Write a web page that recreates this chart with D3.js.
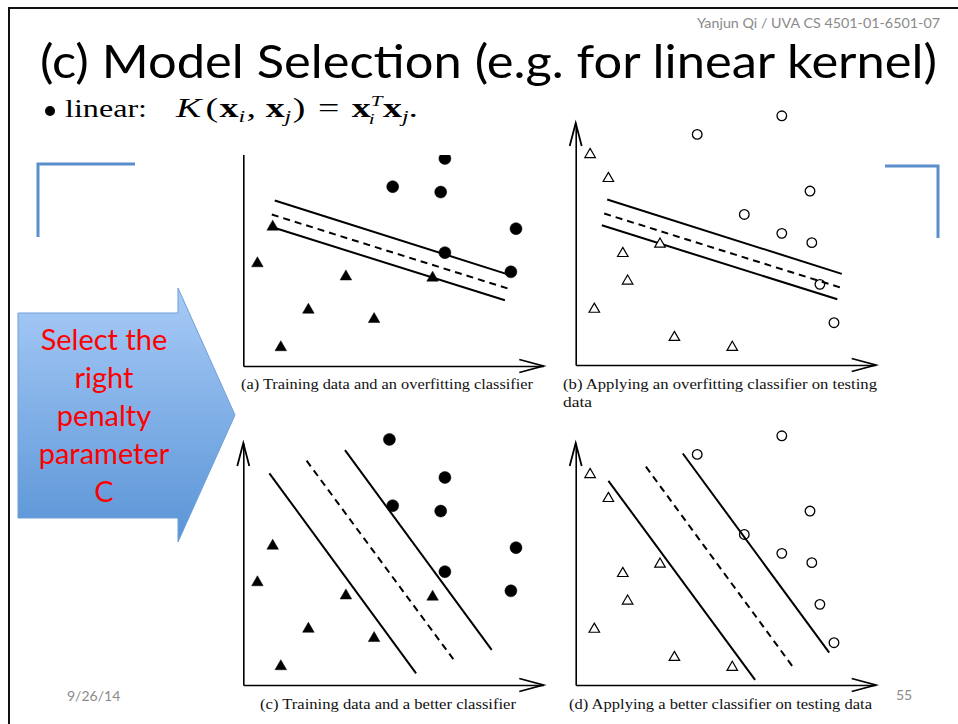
<!DOCTYPE html>
<html>
<head>
<meta charset="utf-8">
<script src="https://cdn.jsdelivr.net/npm/d3@7"></script>
<style>
  body { margin: 0; background: #fff; }
  svg { display: block; }
</style>
</head>
<body>
<svg id="slide" width="958" height="724"></svg>
<script>
// Training points (panels a and c), in axis units
const trainTriangles = [[0.98, 4.64], [0.47, 3.42], [3.42, 2.98], [2.17, 1.87], [4.36, 1.56], [1.25, 0.62], [6.31, 2.94]];
const trainCircles = [[4.87, 8.19], [6.72, 6.92], [4.98, 5.98], [6.58, 5.80], [9.09, 4.58], [6.72, 3.78], [8.92, 3.14]];

// Test points (panels b and d)
const testTriangles = [[0.48, 7.02], [1.09, 6.22], [2.81, 4.03], [1.57, 3.72], [1.73, 2.80], [0.62, 1.86], [3.29, 0.92], [5.22, 0.59]];
const testCircles = [[6.87, 8.31], [4.05, 7.69], [7.81, 5.80], [5.62, 5.02], [6.87, 4.39], [7.87, 4.08], [8.14, 2.69], [8.61, 1.41]];

// Boundaries: [x1, y1, x2, y2, dashed]
const overfitLines = [[1.05, 5.52, 8.87, 3.04, false], [0.95, 5.05, 8.83, 2.58, true], [0.87, 4.66, 8.72, 2.19, false]];
const betterTrainLines = [[0.87, 7.06, 5.76, 0.39, false], [2.11, 7.48, 7.00, 0.86, true], [3.39, 7.83, 8.28, 1.17, false]];
const betterTestLines = [[1.09, 6.81, 5.98, 0.17, false], [2.34, 7.28, 7.25, 0.59, true], [3.57, 7.72, 8.45, 1.08, false]];

const captions = [
  ['(a) Training data and an overfitting classifier'],
  ['(b) Applying an overfitting classifier on testing', 'data'],
  ['(c) Training data and a better classifier'],
  ['(d) Applying a better classifier on testing data']
];
const arrowLabel = ['Select the', 'right', 'penalty', 'parameter', 'C'];

const svg = d3.select('#slide');
svg.append('rect').attr('width', 958).attr('height', 724).attr('fill', '#fff');

// slide frame (top + left edges)
svg.append('path')
  .attr('d', 'M9,724 L9,8 L958,8')
  .attr('fill', 'none')
  .attr('stroke', '#111')
  .attr('stroke-width', 2);

// header
svg.append('text')
  .attr('x', 697).attr('y', 28)
  .attr('font-family', 'Lato, sans-serif')
  .attr('font-size', 13)
  .attr('fill', '#8a8a8a')
  .attr('textLength', 243)
  .attr('lengthAdjust', 'spacingAndGlyphs')
  .text('Yanjun Qi / UVA CS 4501-01-6501-07');

// title
svg.append('text')
  .attr('x', 40).attr('y', 78)
  .attr('font-family', 'Lato, sans-serif')
  .attr('font-size', 46)
  .attr('fill', '#000')
  .attr('textLength', 897)
  .attr('lengthAdjust', 'spacingAndGlyphs')
  .text('(c) Model Selection (e.g. for linear kernel)');

// bullet with kernel formula
svg.append('circle').attr('cx', 50).attr('cy', 111).attr('r', 5).attr('fill', '#000');
svg.append('text')
  .attr('x', 65).attr('y', 117)
  .attr('font-family', 'Liberation Serif, serif')
  .attr('font-size', 26)
  .attr('textLength', 82)
  .attr('lengthAdjust', 'spacingAndGlyphs')
  .text('linear:');

const math = svg.append('text')
  .attr('x', 176).attr('y', 117)
  .attr('font-family', 'Liberation Serif, serif')
  .attr('font-size', 27)
  .attr('textLength', 242)
  .attr('lengthAdjust', 'spacingAndGlyphs');
const parts = [
  { t: 'K', style: 'italic' },
  { t: '(', dx: 3 },
  { t: 'x', weight: 'bold', dx: 1 },
  { t: 'i', style: 'italic', size: 17, dy: 5 },
  { t: ',', dy: -5, dx: 1 },
  { t: 'x', weight: 'bold', dx: 7 },
  { t: 'j', style: 'italic', size: 17, dy: 5 },
  { t: ')', dy: -5, dx: 1 },
  { t: '=', dx: 9 },
  { t: 'x', weight: 'bold', dx: 9 },
  { t: 'T', style: 'italic', size: 15, dy: -11 },
  { t: 'i', style: 'italic', size: 15, dx: -9, dy: 18 },
  { t: 'x', weight: 'bold', dx: 6, dy: -7 },
  { t: 'j', style: 'italic', size: 17, dy: 5 },
  { t: '.', dy: -5 }
];
parts.forEach(p => {
  const ts = math.append('tspan').text(p.t);
  if (p.style) ts.attr('font-style', p.style);
  if (p.weight) ts.attr('font-weight', p.weight);
  if (p.size) ts.attr('font-size', p.size);
  if (p.dx) ts.attr('dx', p.dx);
  if (p.dy) ts.attr('dy', p.dy);
});

// blue corner brackets
const bracket = svg.append('g')
  .attr('fill', 'none')
  .attr('stroke', '#5b8fcc')
  .attr('stroke-width', 3);
bracket.append('path').attr('d', 'M135,164 L38,164 L38,237');
bracket.append('path').attr('d', 'M885,166 L938,166 L938,238');

// gradient arrow
const defs = svg.append('defs');
const grad = defs.append('linearGradient')
  .attr('id', 'arrowGrad')
  .attr('x1', 0).attr('y1', 0).attr('x2', 0).attr('y2', 1);
grad.append('stop').attr('offset', '0%').attr('stop-color', '#a8cbf7');
grad.append('stop').attr('offset', '100%').attr('stop-color', '#5994d6');

svg.append('path')
  .attr('d', 'M18,313 L178,313 L178,288 L235,415 L178,542 L178,518 L18,518 Z')
  .attr('fill', 'url(#arrowGrad)')
  .attr('stroke', '#6f9fd8')
  .attr('stroke-width', 1);

svg.append('text')
  .attr('x', 104)
  .attr('font-family', 'Lato, sans-serif')
  .attr('font-size', 29)
  .attr('fill', '#f00')
  .attr('text-anchor', 'middle')
  .selectAll('tspan')
  .data(arrowLabel)
  .join('tspan')
  .attr('x', 104)
  .attr('y', (d, i) => 350 + i * 38)
  .text(d => d);

// one scatter panel
function drawPanel(cfg) {
  const x = d3.scaleLinear().domain([0, 10]).range([cfg.x0, cfg.x0 + 300]);
  const y = d3.scaleLinear().domain([0, 8.07]).range([cfg.y0, cfg.y0 - 242]);

  const g = svg.append('g');
  if (cfg.clipTop) {
    defs.append('clipPath').attr('id', cfg.id)
      .append('rect')
      .attr('x', cfg.x0 - 20).attr('y', cfg.clipTop)
      .attr('width', 340).attr('height', cfg.y0 - cfg.clipTop + 20);
    g.attr('clip-path', `url(#${cfg.id})`);
  }

  // axes: plain domain lines, no ticks
  g.append('g')
    .attr('transform', `translate(0,${cfg.y0})`)
    .call(d3.axisBottom(x).ticks(0).tickSizeOuter(0))
    .call(a => a.select('.domain').attr('stroke', '#000').attr('stroke-width', 1.6));
  g.append('g')
    .attr('transform', `translate(${cfg.x0},0)`)
    .call(d3.axisLeft(y).ticks(0).tickSizeOuter(0))
    .call(a => a.select('.domain').attr('stroke', '#000').attr('stroke-width', 1.6));

  // open arrowheads
  const xe = x(10), ye = y(8.07);
  g.append('path')
    .attr('d', `M${xe - 24},${cfg.y0 - 6.5} L${xe},${cfg.y0} L${xe - 24},${cfg.y0 + 6.5}`)
    .attr('fill', 'none').attr('stroke', '#000').attr('stroke-width', 1.8);
  g.append('path')
    .attr('d', `M${cfg.x0 - 6},${ye + 23} L${cfg.x0},${ye} L${cfg.x0 + 6},${ye + 23}`)
    .attr('fill', 'none').attr('stroke', '#000').attr('stroke-width', 1.8);

  // classifier lines
  g.selectAll('line.bound')
    .data(cfg.lines)
    .join('line')
    .attr('class', 'bound')
    .attr('x1', d => x(d[0])).attr('y1', d => y(d[1]))
    .attr('x2', d => x(d[2])).attr('y2', d => y(d[3]))
    .attr('stroke', '#000')
    .attr('stroke-width', 2)
    .attr('stroke-dasharray', d => d[4] ? '7,5' : null);

  // points
  const tri = d3.symbol().type(d3.symbolTriangle).size(cfg.filled ? 58 : 48);
  g.selectAll('path.tri')
    .data(cfg.triangles)
    .join('path')
    .attr('class', 'tri')
    .attr('d', tri)
    .attr('transform', d => `translate(${x(d[0])},${y(d[1])})`)
    .attr('fill', cfg.filled ? '#000' : '#fff')
    .attr('stroke', '#000')
    .attr('stroke-width', cfg.filled ? 0.5 : 1.2);

  g.selectAll('circle.dot')
    .data(cfg.circles)
    .join('circle')
    .attr('class', 'dot')
    .attr('cx', d => x(d[0])).attr('cy', d => y(d[1]))
    .attr('r', cfg.filled ? 6 : 4.8)
    .attr('fill', cfg.filled ? '#000' : '#fff')
    .attr('fill-opacity', cfg.filled ? 1 : 0)
    .attr('stroke', '#000')
    .attr('stroke-width', cfg.filled ? 0.5 : 1.3);

  // caption
  svg.append('g')
    .selectAll('text')
    .data(cfg.caption)
    .join('text')
    .attr('x', cfg.capX)
    .attr('y', (d, i) => cfg.capY + i * 18)
    .attr('font-family', 'Liberation Serif, serif')
    .attr('font-size', 15)
    .attr('fill', '#111')
    .attr('textLength', (d, i) => cfg.capW[i])
    .attr('lengthAdjust', 'spacingAndGlyphs')
    .text(d => d);
}

drawPanel({ id: 'clipA', x0: 243.3, y0: 366, clipTop: 155, filled: true,
  triangles: trainTriangles, circles: trainCircles, lines: overfitLines,
  caption: captions[0], capX: 241, capY: 389, capW: [292] });
drawPanel({ id: 'clipB', x0: 575.7, y0: 365, filled: false,
  triangles: testTriangles, circles: testCircles, lines: overfitLines,
  caption: captions[1], capX: 563, capY: 389, capW: [314, 29] });
drawPanel({ id: 'clipC', x0: 243.3, y0: 685, filled: true,
  triangles: trainTriangles, circles: trainCircles, lines: betterTrainLines,
  caption: captions[2], capX: 260, capY: 709, capW: [256] });
drawPanel({ id: 'clipD', x0: 575.7, y0: 685, filled: false,
  triangles: testTriangles, circles: testCircles, lines: betterTestLines,
  caption: captions[3], capX: 569, capY: 709, capW: [303] });

// footer
svg.append('text')
  .attr('x', 67).attr('y', 701)
  .attr('font-family', 'Lato, sans-serif')
  .attr('font-size', 14)
  .attr('fill', '#8a8a8a')
  .text('9/26/14');
svg.append('text')
  .attr('x', 896).attr('y', 700)
  .attr('font-family', 'Lato, sans-serif')
  .attr('font-size', 14)
  .attr('fill', '#8a8a8a')
  .text('55');
</script>
</body>
</html>
